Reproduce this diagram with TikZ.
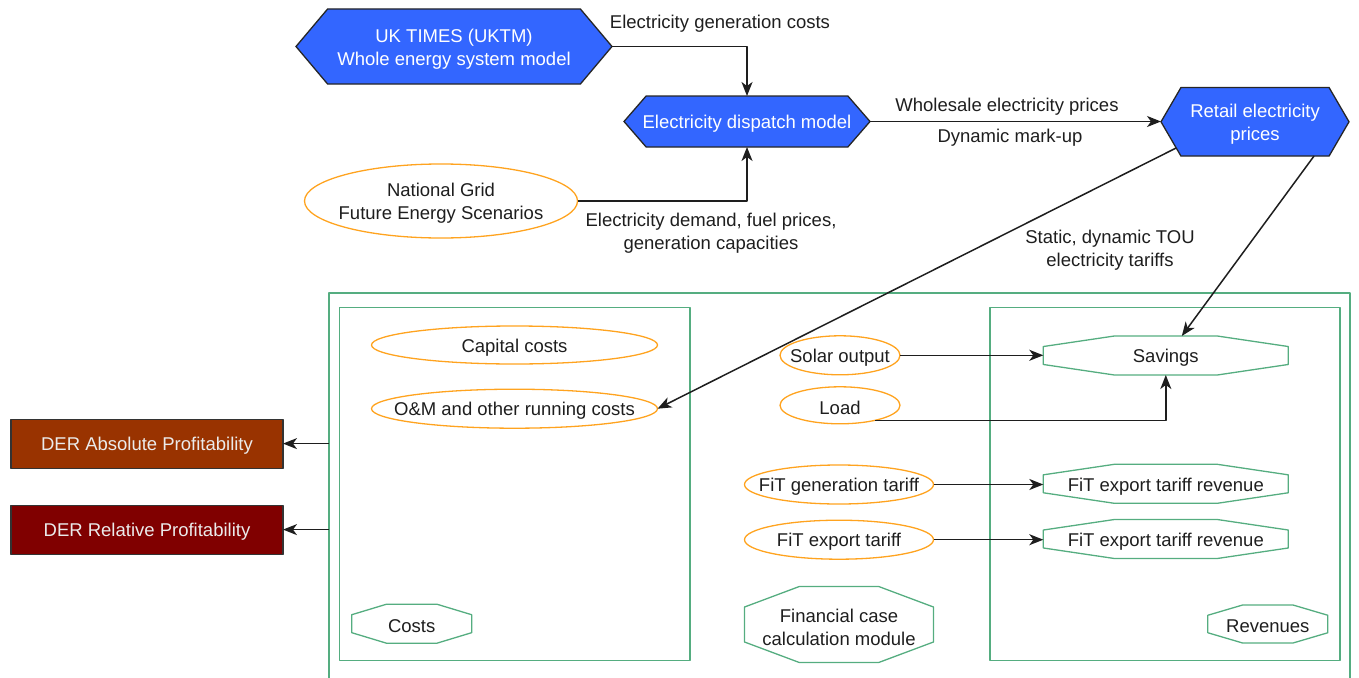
\documentclass[tikz,border=0pt]{standalone}
\usepackage{fontspec}
\setmainfont{Liberation Sans}
\usetikzlibrary{calc,shapes.geometric,arrows.meta,backgrounds}
\definecolor{hexblue}{HTML}{3366FF}
\definecolor{orng}{HTML}{FFA31F}
\definecolor{grn}{HTML}{55AD80}
\definecolor{derA}{HTML}{993300}
\definecolor{derR}{HTML}{800000}
\definecolor{ink}{HTML}{1E1E1E}
\newcommand\fsz{\fontsize{18.5}{23}\selectfont}
\newcommand\hexdraw[2]{\begin{scope}[on background layer]\path[hexfill] (#1.west) -- ($(#1.north west)!#2!(#1.north east)$) -- ($(#1.north east)!#2!(#1.north west)$) -- (#1.east) -- ($(#1.south east)!#2!(#1.south west)$) -- ($(#1.south west)!#2!(#1.south east)$) -- cycle;\end{scope}}
\newcommand\octdraw[1]{\path[octline] ($(#1.north west)!0.29!(#1.north east)$) -- ($(#1.north west)!0.71!(#1.north east)$) -- ($(#1.north east)!0.27!(#1.south east)$) -- ($(#1.north east)!0.73!(#1.south east)$) -- ($(#1.south west)!0.71!(#1.south east)$) -- ($(#1.south west)!0.29!(#1.south east)$) -- ($(#1.north west)!0.73!(#1.south west)$) -- ($(#1.north west)!0.27!(#1.south west)$) -- cycle;}
\tikzset{
  sz/.style 2 args={minimum width=#1pt, minimum height=#2pt},
  box/.style={draw=none, inner sep=0pt, outer sep=0pt},
  txt/.style={label={[lbl]center:{#1}}},
  wtxt/.style={label={[lbl,text=white]center:{#1}}},
  hexfill/.style={fill=hexblue, draw=black!85, line width=1.3pt},
  octline/.style={draw=grn, line width=1.3pt},
  oval/.style={ellipse, draw=orng, line width=1.3pt, inner sep=0pt, outer sep=0pt},
  gbox/.style={rectangle, draw=grn, line width=1.3pt, inner sep=0pt, outer sep=0pt},
  der/.style={rectangle, draw=black!80, line width=1.2pt, inner sep=0pt, outer sep=0pt},
  arr/.style={-{Stealth[length=14pt,width=11pt,inset=4pt]}, line width=1.5pt, draw=ink},
  lbl/.style={inner sep=0pt, align=center, yshift=-2.5pt, text=ink}
}
\begin{document}
\begin{tikzpicture}[x=1pt,y=-1pt,font=\fsz,line join=round]
\useasboundingbox (0,0) rectangle (1359,677);
% top nodes
\node[box, sz={316}{75}, wtxt={UK TIMES (UKTM)\\Whole energy system model}] (uktm) at (454,46.5) {};
\hexdraw{uktm}{0.1}
\node[box, sz={246}{51}, wtxt={Electricity dispatch model}] (disp) at (747,121.5) {};
\hexdraw{disp}{0.09}
\node[box, sz={188}{68.5}, wtxt={Retail electricity\\prices}] (ret) at (1255,121.8) {};
\hexdraw{ret}{0.106}
\node[oval, sz={273}{74}, txt={National Grid\\Future Energy Scenarios}] (ng) at (441,201) {};
% containers
\node[gbox, sz={1021}{397}] (outer) at (839.5,491.5) {};
\node[gbox, sz={350.5}{353}] (costbox) at (514.75,484) {};
\node[gbox, sz={350}{353}] (revbox) at (1165,484) {};
% cost side
\node[oval, sz={286}{38}, txt={Capital costs}] (cap) at (514.5,345) {};
\node[oval, sz={286}{39}, txt={O\&M and other running costs}] (om) at (514.5,408.7) {};
\node[box, sz={120}{39}, txt={Costs}] (costs) at (411.7,623.7) {};
\octdraw{costs}
% middle
\node[oval, sz={120}{39}, txt={Solar output}] (sol) at (840,355.3) {};
\node[oval, sz={120}{37}, txt={Load}] (load) at (840,405.3) {};
\node[oval, sz={189}{39}, txt={FiT generation tariff}] (fitg) at (839,484.5) {};
\node[oval, sz={189}{39}, txt={FiT export tariff}] (fite) at (839,539.7) {};
\node[box, sz={189}{76}, txt={Financial case\\calculation module}] (fin) at (839,624.5) {};
\octdraw{fin}
% revenue side
\node[box, sz={245}{39}, txt={Savings}] (sav) at (1165.8,355.5) {};
\octdraw{sav}
\node[box, sz={245}{39}, txt={FiT export tariff revenue}] (rev1) at (1165.8,483.8) {};
\octdraw{rev1}
\node[box, sz={245}{39}, txt={FiT export tariff revenue}] (rev2) at (1165.8,539) {};
\octdraw{rev2}
\node[box, sz={120}{38}, txt={Revenues}] (revs) at (1267.8,624) {};
\octdraw{revs}
% DER outputs
\node[der, fill=derA, sz={272}{49}, label={[lbl,text=white!92!black]center:{DER Absolute Profitability}}] (abs) at (147,443.6) {};
\node[der, fill=derR, sz={272}{49}, label={[lbl,text=white!92!black]center:{DER Relative Profitability}}] (rel) at (147,529.6) {};
% labels
\node[lbl] (l1) at (720,21) {Electricity generation costs};
\node[lbl] (l2) at (711,231) {Electricity demand, fuel prices,\\generation capacities};
\node[lbl] (l3) at (1007,104) {Wholesale electricity prices};
\node[lbl] (l4) at (1010,135) {Dynamic mark-up};
\node[lbl] (l5) at (1110,248) {Static, dynamic TOU\\electricity tariffs};
% connectors
\draw[arr] (uktm.east) -| (disp.north);
\draw[arr] (ng.east) -| (disp.south);
\draw[arr] (disp.east) -- (disp.east -| ret.west);
\draw[arr] ([shift={(15,-8)}]ret.south west) -- (om.east);
\draw[arr] ([xshift=-35pt]ret.south east) -- ([xshift=16pt]sav.north);
\draw[arr] (sol.east) -- (sol.east -| sav.west);
\draw[arr] (load.-23) -| (sav.south);
\draw[arr] (fitg.east) -- (fitg.east -| rev1.west);
\draw[arr] (fite.east) -- (fite.east -| rev2.west);
\draw[arr] (abs.east -| outer.west) -- (abs.east);
\draw[arr] (rel.east -| outer.west) -- (rel.east);
\end{tikzpicture}
\end{document}
